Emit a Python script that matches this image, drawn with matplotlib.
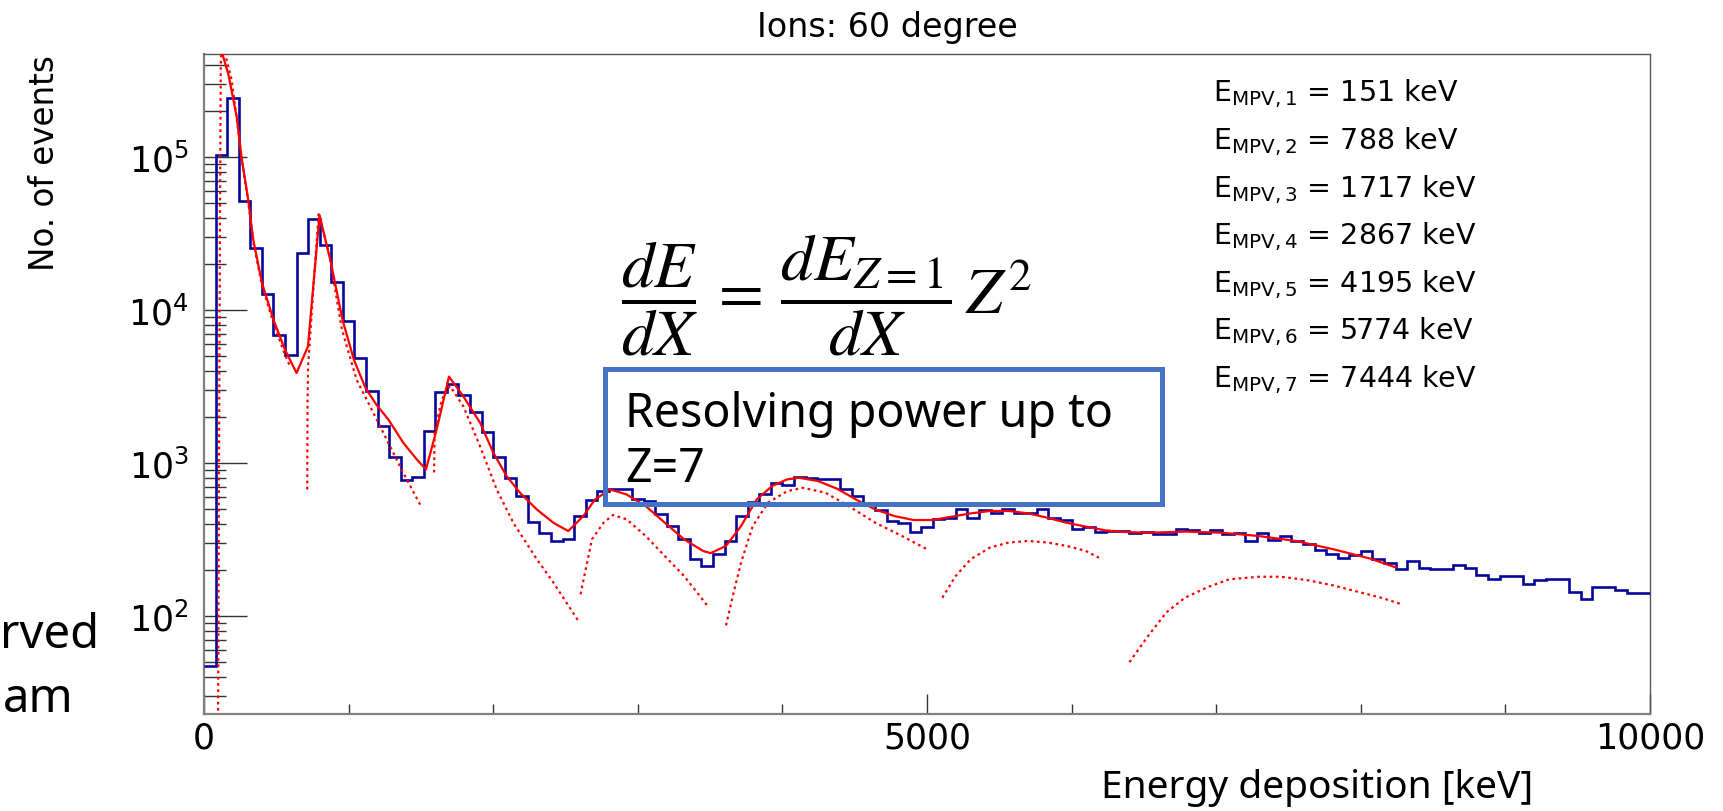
import numpy as np
import matplotlib
matplotlib.use("Agg")
import matplotlib.pyplot as plt
from matplotlib.patches import Rectangle
from matplotlib.ticker import FixedLocator, MultipleLocator, LogLocator, NullFormatter

plt.rcParams['font.family'] = ['DejaVu Sans']

W, H = 1723, 812

# histogram: 125 bins of 80 keV from 0 to 10000 keV
bin_width = 80
counts = [
    47, 1.04e5, 2.44e5, 5.15e4, 2.56e4, 1.27e4, 6.9e3, 5.06e3, 2.38e4, 3.95e4,
    2.67e4, 1.52e4, 8.44e3, 4.87e3, 2.98e3, 1.74e3, 1.10e3, 772, 810, 1.63e3,
    2.93e3, 3.27e3, 2.81e3, 2.15e3, 1.59e3, 1.10e3, 798, 610, 412, 351,
    310, 321, 451, 574, 657, 673, 673, 586, 566, 462,
    388, 321, 236, 213, 254, 310, 451, 557, 631, 745,
    716, 815, 795, 783, 783, 681, 610, 552, 491, 419,
    404, 355, 383, 434, 440, 504, 440, 493, 474, 499,
    474, 474, 499, 440, 425, 369, 385, 355, 358, 358,
    351, 355, 346, 346, 373, 364, 351, 364, 346, 351,
    310, 351, 315, 334, 310, 295, 271, 254, 241, 250,
    267, 238, 221, 203, 230, 207, 203, 203, 215, 207,
    185, 176, 183, 183, 163, 172, 174, 174, 143, 129,
    154, 156, 149, 141, 141,
]

# total fit (solid red)
fit_e = [125, 131, 168, 226, 261, 306, 341, 401, 481, 560, 640, 719, 799, 878, 958,
         1037, 1117, 1194, 1275, 1378, 1471, 1535, 1609, 1694, 1793, 1909, 2001, 2093,
         2185, 2301, 2416, 2519, 2623, 2704, 2808, 2922, 3055, 3187, 3320, 3451, 3504,
         3610, 3714, 3822, 3928, 4032, 4113, 4246, 4378, 4509, 4640, 4775, 4907, 5039,
         5171, 5304, 5436, 5567, 5698, 5833, 5965, 6098, 6231, 6362, 6528, 6784, 7040,
         7296, 7552, 7808, 8064, 8243]
fit_n = [8.0e5, 4.6e5, 3.5e5, 1.84e5, 9.8e4, 5.25e4, 2.88e4, 1.51e4, 8.65e3, 5.52e3,
         3.89e3, 5.80e3, 4.19e4, 2.04e4, 8.65e3, 4.74e3, 3.1e3, 2.4e3, 1.93e3, 1.36e3,
         1.06e3, 910, 1.66e3, 3.68e3, 2.74e3, 1.84e3, 1.17e3, 823, 641, 499, 408, 360,
         451, 579, 673, 625, 524, 408, 318, 267, 258, 288, 388, 579, 708, 783, 804, 764,
         681, 579, 499, 451, 425, 425, 447, 470, 487, 487, 470, 440, 408, 385, 364, 355,
         351, 357, 351, 334, 310, 274, 238, 208]

# single-Z components (dotted red)
comp1_e = [97, 104, 110, 116, 130, 145, 191, 226, 261, 306, 341, 401, 481, 560, 600]
comp1_n = [20, 1e3, 3e4, 4e5, 9e5, 4.8e5, 3.2e5, 1.8e5, 9.6e4, 5.1e4, 2.8e4, 1.45e4, 8.2e3, 5.1e3, 4.2e3]
comp2_e = [714, 716, 720, 760, 793, 871, 954, 1056, 1148, 1263, 1378, 1506]
comp2_n = [673, 2.6e3, 4.3e3, 1.57e4, 4.3e4, 2.19e4, 7.45e3, 3.5e3, 2.36e3, 1.43e3, 865, 512]
comp3_e = [1591, 1595, 1644, 1701, 1793, 1909, 2024, 2139, 2301, 2416, 2589]
comp3_n = [870, 1.6e3, 2.6e3, 3.2e3, 2.36e3, 1.29e3, 673, 408, 236, 166, 93]
comp4_e = [2604, 2683, 2763, 2828, 2922, 3055, 3187, 3320, 3491]
comp4_n = [139, 318, 408, 458, 430, 334, 247, 183, 114]
comp5_e = [3610, 3663, 3714, 3795, 3900, 4034, 4140, 4298, 4457, 4643, 4827, 5000]
comp5_n = [87, 143, 224, 388, 552, 657, 691, 641, 525, 408, 334, 274]
comp6_e = [5106, 5198, 5304, 5436, 5567, 5701, 5833, 5965, 6098, 6189]
comp6_n = [132, 183, 236, 281, 303, 310, 303, 288, 267, 241]
comp7_e = [6400, 6528, 6656, 6784, 6936, 7088, 7296, 7448, 7628, 7808, 7960, 8140, 8278]
comp7_n = [50, 74, 106, 132, 154, 174, 181, 181, 172, 159, 146, 132, 120]

mpv_z = [1, 2, 3, 4, 5, 6, 7]
mpv_kev = [151, 788, 1717, 2867, 4195, 5774, 7444]


def fx(x):
    return x / W


def fy(y):
    return 1 - y / H


fig = plt.figure(figsize=(W / 100, H / 100), dpi=100)
ax = fig.add_axes([fx(204), fy(714.5), fx(1650) - fx(204), fy(55.3) - fy(714.5)])

edges = np.arange(len(counts) + 1) * bin_width
ax.stairs(counts, edges, baseline=None, color='#06069a', lw=1.9, zorder=3)
ax.plot(fit_e, fit_n, color='#ff0000', lw=1.6, zorder=4)
comps = [(comp1_e, comp1_n), (comp2_e, comp2_n), (comp3_e, comp3_n), (comp4_e, comp4_n),
         (comp5_e, comp5_n), (comp6_e, comp6_n), (comp7_e, comp7_n)]
for ce, cn in comps:
    ax.plot(ce, cn, color='#ff0000', lw=1.6, linestyle=(0, (1.2, 1.6)), zorder=4)

ax.set_xlim(0, 10000)
ax.set_yscale('log')
ax.set_ylim(23.1, 4.71e5)

ax.xaxis.set_major_locator(FixedLocator([0, 5000, 10000]))
ax.xaxis.set_minor_locator(MultipleLocator(1000))
ax.set_xticklabels(['0', '5000', '10000'])
ax.yaxis.set_major_locator(LogLocator(base=10))
ax.yaxis.set_minor_locator(LogLocator(base=10, subs=np.arange(2, 10)))
ax.yaxis.set_minor_formatter(NullFormatter())

ax.tick_params(axis='x', which='major', direction='in', length=14.4, width=1, color='#333333',
               labelsize=25, pad=5, top=False)
ax.tick_params(axis='x', which='minor', direction='in', length=7.2, width=1, color='#333333', top=False)
ax.tick_params(axis='y', which='major', direction='in', length=31, width=1, color='#333333',
               labelsize=25, pad=11, right=False)
ax.tick_params(axis='y', which='minor', direction='in', length=15.8, width=1, color='#333333', right=False)

for side in ['left', 'bottom']:
    ax.spines[side].set_color('#808080')
    ax.spines[side].set_linewidth(1.6)
for side in ['top', 'right']:
    ax.spines[side].set_color('#555555')
    ax.spines[side].set_linewidth(1.0)

# titles
fig.text(fx(887), fy(36.7), 'Ions: 60 degree', ha='center', va='baseline', fontsize=24)
fig.text(fx(54), fy(55), 'No. of events', rotation=90, rotation_mode='anchor',
         ha='right', va='baseline', fontsize=23.5)
fig.text(fx(1533), fy(798), 'Energy deposition [keV]', ha='right', va='baseline',
         fontsize=28, family=['Noto Sans', 'DejaVu Sans'])

# MPV list
for i, (z, e) in enumerate(zip(mpv_z, mpv_kev)):
    fig.text(fx(1213), fy(101.7 + 47.6 * i), r'E$_{\mathregular{MPV,%d}}$ = %d keV' % (z, e),
             ha='left', va='baseline', fontsize=20.5)

# slide overlays
fig.text(fx(621), fy(295), r'$\dfrac{dE}{dX}\,=\,\dfrac{dE_{Z=1}}{dX}\,Z^{2}$',
         ha='left', va='center', fontsize=47, math_fontfamily='stix')
fig.patches.append(Rectangle((fx(605), fy(505)), fx(1162) - fx(605), fy(370) - fy(505),
                             transform=fig.transFigure, fill=False, edgecolor='#4472C4',
                             lw=3.6, zorder=5))
fig.text(fx(625), fy(426.7), 'Resolving power up to', ha='left', va='baseline',
         fontsize=33.5, family=['Noto Sans', 'DejaVu Sans'])
fig.text(fx(625), fy(481.7), 'Z=7', ha='left', va='baseline',
         fontsize=33.5, family=['Noto Sans', 'DejaVu Sans'])
fig.text(fx(99), fy(647.7), 'rved', ha='right', va='baseline',
         fontsize=34, family=['Noto Sans', 'DejaVu Sans'])
fig.text(fx(74), fy(711.7), 'am', ha='right', va='baseline',
         fontsize=34, family=['Noto Sans', 'DejaVu Sans'])

fig.savefig('out.png', dpi=100)
